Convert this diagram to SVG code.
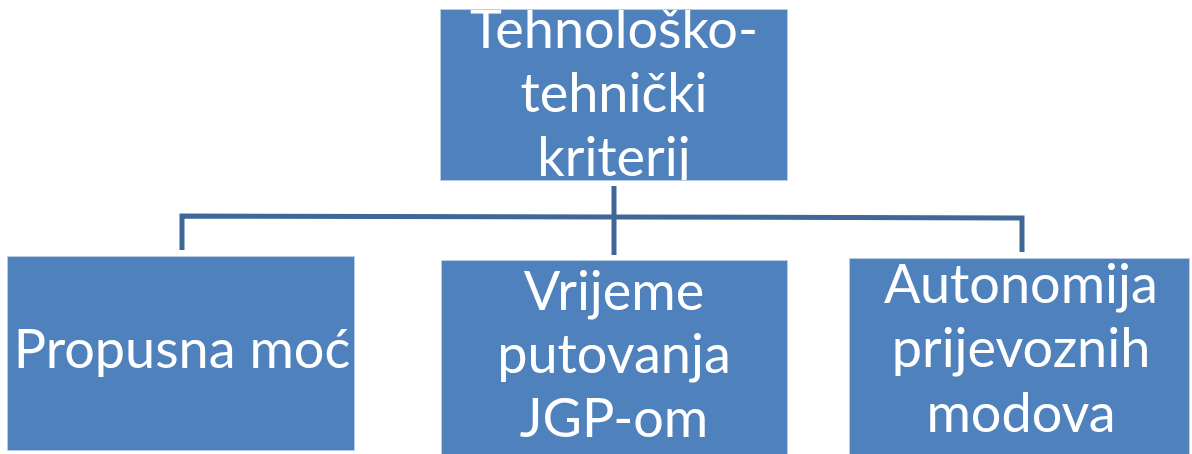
<svg xmlns="http://www.w3.org/2000/svg" width="1192" height="454" viewBox="0 0 1192 454">
<style>
.box{fill:#4F81BD;stroke:#B9CDE5;stroke-width:1}
.t{font-family:Lato,"Open Sans","Liberation Sans",sans-serif;font-size:54px;fill:#ffffff;text-anchor:middle}
.c{fill:none;stroke:#3F6797;stroke-width:5}
</style>
<defs><clipPath id="clipTop"><rect x="441" y="10" width="346" height="170"/></clipPath></defs>
<g id="connectors">
<line class="c" x1="614" y1="186" x2="614" y2="255"/>
<polyline class="c" points="182,250 182,216 614,217 1022,218 1022,252"/>
</g>
<g id="node-top">
<rect class="box" x="440.5" y="9.5" width="347" height="171"/>
<g clip-path="url(#clipTop)">
<text class="t" x="614" y="48">Tehnološko-</text>
<text class="t" x="614" y="112">tehnički</text>
<text class="t" x="614" y="176">kriterij</text>
</g>
</g>
<g id="node-left">
<rect class="box" x="7.5" y="256.5" width="347" height="194"/>
<text class="t" x="182" y="368">Propusna moć</text>
</g>
<g id="node-middle">
<rect class="box" x="441.5" y="260.5" width="346" height="200"/>
<text class="t" x="614" y="310">Vrijeme</text>
<text class="t" x="614" y="373">putovanja</text>
<text class="t" x="614" y="437">JGP-om</text>
</g>
<g id="node-right">
<rect class="box" x="849.5" y="258.5" width="340" height="200"/>
<text class="t" x="1021" y="303">Autonomija</text>
<text class="t" x="1021" y="367">prijevoznih</text>
<text class="t" x="1021" y="432">modova</text>
</g>
</svg>
